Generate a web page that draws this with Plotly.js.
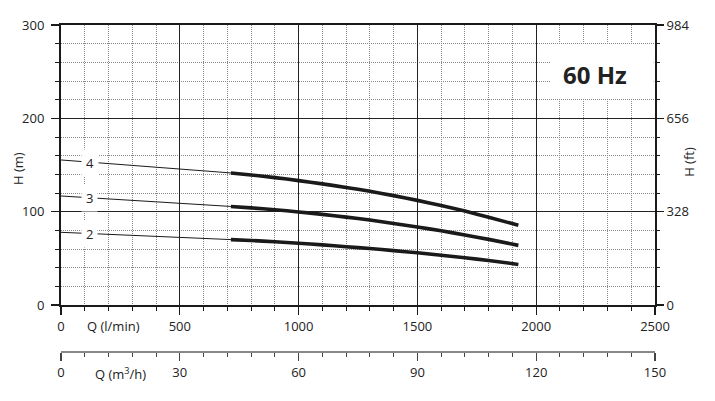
<!DOCTYPE html>
<html>
<head>
<meta charset="utf-8">
<script src="https://cdn.plot.ly/plotly-3.0.1.min.js"></script>
<style>html,body{margin:0;padding:0;background:#fff;}#chart{width:715px;height:401px;}</style>
</head>
<body>
<div id="chart"></div>
<script>
// Data
const qThin = [0, 715];              // l/min, thin extension
const h4Thin = [155.4, 141.5];
const h3Thin = [116.8, 105.6];
const h2Thin = [77.9, 70.1];

const qThick = [715, 800, 900, 1000, 1100, 1200, 1300, 1400, 1500, 1600, 1700, 1800, 1925]; // l/min
const h4Thick = [141.5, 139.3, 136.5, 133.3, 129.8, 126.0, 121.8, 117.2, 112.1, 106.6, 100.6, 94.1, 85.4];
const h3Thick = [105.6, 104.1, 102.1, 99.7, 97.1, 94.2, 91.0, 87.4, 83.6, 79.5, 75.0, 70.3, 63.9];
const h2Thick = [70.1, 69.1, 67.7, 66.2, 64.4, 62.5, 60.5, 58.3, 55.9, 53.3, 50.6, 47.7, 43.5];

const curveLabels = ['4', '3', '2'];
const labelQ = [120, 120, 120];
const labelH = [152.6, 114.4, 75.8];

const ftTickVals = [0, 328, 656, 984];
const ftTickText = ['0', '328', '656', '984'];
const m3hTickVals = [0, 30, 60, 90, 120, 150];
const m3hTickText = ['0', '30', '60', '90', '120', '150'];

const font = 'Open Sans, Noto Sans, sans-serif';
const dark = '#1a1a1a';
const txt = '#222';

const thin = {color: dark, width: 1};
const thick = {color: dark, width: 3.6};
const traces = [
  {x: qThin, y: h4Thin, mode: 'lines', line: thin},
  {x: qThin, y: h3Thin, mode: 'lines', line: thin},
  {x: qThin, y: h2Thin, mode: 'lines', line: thin},
  {x: qThick, y: h4Thick, mode: 'lines', line: Object.assign({shape: 'spline', smoothing: 0.6}, thick)},
  {x: qThick, y: h3Thick, mode: 'lines', line: Object.assign({shape: 'spline', smoothing: 0.6}, thick)},
  {x: qThick, y: h2Thick, mode: 'lines', line: Object.assign({shape: 'spline', smoothing: 0.6}, thick)},
  {x: [0], y: [0], yaxis: 'y2', mode: 'markers', marker: {opacity: 0}, hoverinfo: 'skip'},
  {x: [0], y: [0], xaxis: 'x2', mode: 'markers', marker: {opacity: 0}, hoverinfo: 'skip'}
];

const annotations = curveLabels.map((t, i) => ({
  x: labelQ[i], y: labelH[i], xref: 'x', yref: 'y', text: t, showarrow: false,
  bgcolor: '#fff', borderpad: 4, font: {family: font, size: 13, color: txt}
}));
annotations.push({x: 2247, y: 246.5, xref: 'x', yref: 'y', text: '<b>60 Hz</b>', showarrow: false,
  font: {family: font, size: 24, color: txt}});
annotations.push({x: 219, y: 0, xref: 'x', yref: 'y', yanchor: 'middle', yshift: -21, text: 'Q (l/min)', showarrow: false,
  font: {family: font, size: 13, color: txt}});
annotations.push({x: 15, y: 0, xref: 'x2', yref: 'paper', yanchor: 'middle', yshift: -21, text: 'Q (m<sup>3</sup>/h)', showarrow: false,
  font: {family: font, size: 13, color: txt}});
annotations.push({x: -0.0724, y: 0.5627, xref: 'paper', yref: 'paper', xanchor: 'center', yanchor: 'middle',
  textangle: -90, text: 'H (m)', showarrow: false, font: {family: font, size: 13, color: txt}});
annotations.push({x: 1.057, y: 0.581, xref: 'paper', yref: 'paper', xanchor: 'center', yanchor: 'middle',
  textangle: -90, text: 'H (ft)', showarrow: false, font: {family: font, size: 13, color: txt}});

const layout = {
  width: 715, height: 401,
  margin: {l: 61, r: 60, t: 25, b: 49},
  paper_bgcolor: '#fff', plot_bgcolor: '#fff',
  showlegend: false,
  font: {family: font, size: 13, color: txt},
  xaxis: {
    range: [0, 2500], dtick: 500, tick0: 0, anchor: 'y',
    showline: true, linecolor: dark, linewidth: 2, mirror: true,
    showgrid: true, gridcolor: '#222', gridwidth: 1.3, zeroline: false,
    ticks: 'outside', ticklen: 8, tickcolor: dark, tickwidth: 1.2,
    tickfont: {family: font, size: 13, color: txt},
    minor: {dtick: 100, tick0: 0, showgrid: true, griddash: '1px,1px', gridcolor: '#888', gridwidth: 1,
            ticks: 'outside', ticklen: 4, tickcolor: dark, tickwidth: 1}
  },
  xaxis2: {
    range: [0, 150], overlaying: 'x', anchor: 'free', position: 0, side: 'bottom',
    tickvals: m3hTickVals, ticktext: m3hTickText,
    showline: true, linecolor: '#888', linewidth: 2, showgrid: false, zeroline: false,
    ticks: 'outside', ticklen: 8, tickcolor: '#444', tickwidth: 1.2,
    tickfont: {family: font, size: 13, color: txt},
    minor: {dtick: 6, tick0: 0, ticks: 'outside', ticklen: 4, tickcolor: '#444', tickwidth: 1, showgrid: false}
  },
  yaxis: {
    range: [0, 300], dtick: 100, tick0: 0, domain: [0.1437, 1],
    showline: true, linecolor: dark, linewidth: 2, mirror: true,
    showgrid: true, gridcolor: '#222', gridwidth: 1.3, zeroline: false,
    ticks: 'outside', ticklen: 8, tickcolor: dark, tickwidth: 1.2,
    tickfont: {family: font, size: 13, color: txt},
    ticklabelstandoff: 4,
    minor: {dtick: 20, tick0: 0, showgrid: true, griddash: '1px,1px', gridcolor: '#888', gridwidth: 1,
            ticks: 'outside', ticklen: 4, tickcolor: dark, tickwidth: 1}
  },
  yaxis2: {
    range: [0, 984], overlaying: 'y', side: 'right', anchor: 'x',
    tickvals: ftTickVals, ticktext: ftTickText,
    showline: false, showgrid: false, zeroline: false,
    ticks: 'outside', ticklen: 8, tickcolor: dark, tickwidth: 1.2,
    tickfont: {family: font, size: 13, color: txt},
    minor: {dtick: 65.6, tick0: 0, ticks: 'outside', ticklen: 4, tickcolor: dark, tickwidth: 1, showgrid: false}
  },
  shapes: [
    {type: 'rect', xref: 'x', yref: 'y', x0: 2058, x1: 2494, y0: 221.5, y1: 278.5,
     fillcolor: '#fff', line: {width: 0}, layer: 'above'}
  ],
  annotations: annotations
};

Plotly.newPlot('chart', traces, layout, {staticPlot: true, displayModeBar: false});
</script>
</body>
</html>
